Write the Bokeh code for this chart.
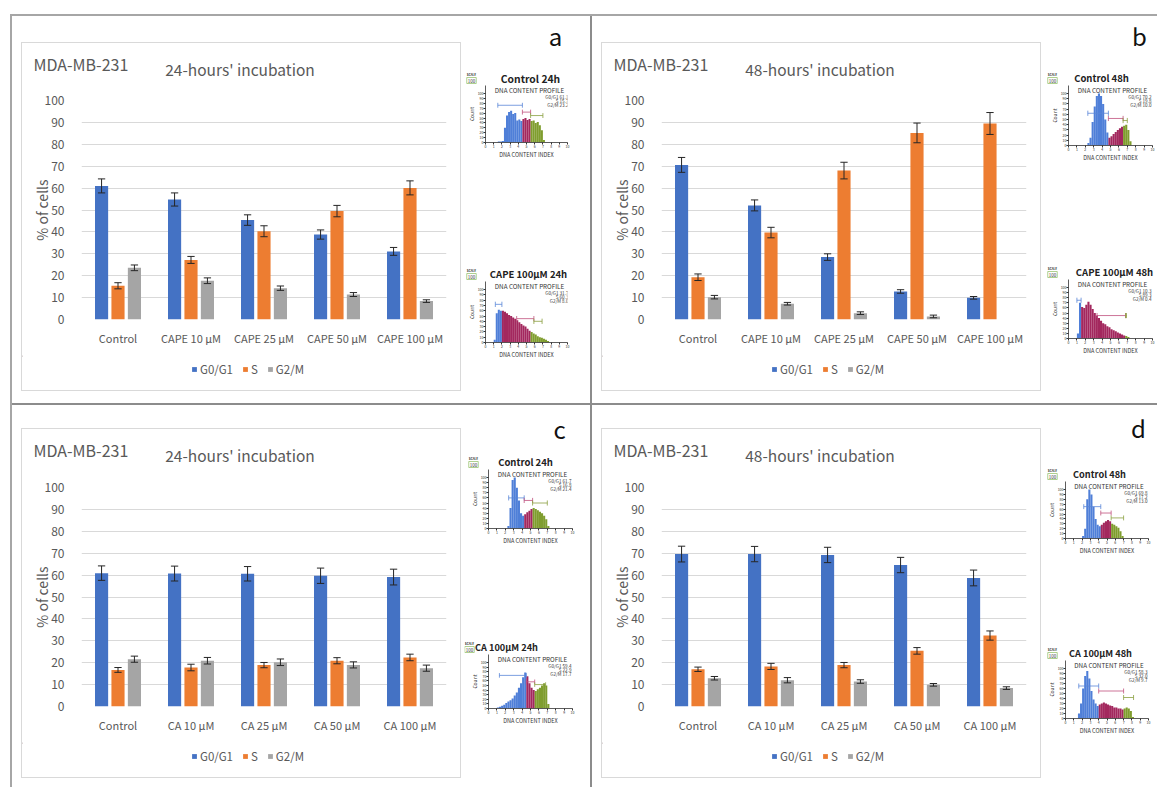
from bokeh.plotting import figure
from bokeh.models import (ColumnDataSource, FactorRange, Range1d, Label, Legend,
                          Div, Spacer, FixedTicker)
from bokeh.layouts import row, column
from bokeh.transform import dodge
from bokeh.embed import file_html
from bokeh.resources import INLINE

FONT = "Noto Sans CJK KR"
TXT = "#595959"
C_G, C_S, C_M = "#4472C4", "#ED7D31", "#A5A5A5"
ERR = "#262626"
H_BLUE, H_RED, H_GREEN = "#4f7fd8", "#a3285e", "#7f9d2e"

# ---------------- data ----------------
phases = ["G0/G1", "S", "G2/M"]
cats_cape = ["Control", "CAPE 10 µM", "CAPE 25 µM", "CAPE 50 µM", "CAPE 100 µM"]
cats_ca = ["Control", "CA 10 µM", "CA 25 µM", "CA 50 µM", "CA 100 µM"]

# panel a: CAPE, 24 h
a_g0g1 = [61.0, 54.8, 45.4, 38.8, 31.1]
a_s = [15.4, 27.2, 40.3, 49.5, 60.1]
a_g2m = [23.6, 17.7, 14.3, 11.4, 8.4]
a_g0g1_err = [3.2, 3.0, 2.4, 2.1, 1.8]
a_s_err = [1.4, 1.6, 2.5, 2.6, 3.2]
a_g2m_err = [1.3, 1.3, 1.0, 0.9, 0.6]

# panel b: CAPE, 48 h
b_g0g1 = [70.6, 52.1, 28.5, 12.8, 9.9]
b_s = [19.3, 39.7, 68.0, 85.2, 89.5]
b_g2m = [10.2, 7.2, 2.9, 1.4, 0.0]
b_g0g1_err = [3.4, 2.5, 1.5, 0.8, 0.6]
b_s_err = [1.5, 2.4, 3.8, 4.5, 5.0]
b_g2m_err = [0.8, 0.6, 0.6, 0.6, 0.0]

# panel c: CA, 24 h
c_g0g1 = [60.9, 60.7, 60.6, 59.7, 59.1]
c_s = [16.7, 17.8, 18.9, 20.9, 22.4]
c_g2m = [21.6, 20.9, 20.2, 19.0, 17.5]
c_g0g1_err = [3.3, 3.4, 3.3, 3.5, 3.6]
c_s_err = [1.1, 1.5, 1.2, 1.4, 1.5]
c_g2m_err = [1.4, 1.5, 1.5, 1.4, 1.4]

# panel d: CA, 48 h
d_g0g1 = [69.6, 69.6, 69.2, 64.6, 58.7]
d_s = [17.0, 18.3, 18.9, 25.4, 32.4]
d_g2m = [12.9, 12.0, 11.4, 9.9, 8.4]
d_g0g1_err = [3.6, 3.5, 3.5, 3.5, 3.6]
d_s_err = [1.0, 1.4, 1.2, 1.5, 2.1]
d_g2m_err = [0.8, 1.2, 0.8, 0.6, 0.6]

# DNA content histograms of the insets (bin width 0.25, DNA content index)
hist_bin = 0.25
a1_start, a1_counts = 1.5, [2, 2, 3, 30, 55, 62, 65, 58, 60, 45, 47, 44, 48, 50, 46, 48, 44, 45, 40, 42, 35, 25, 5]
a2_start, a2_counts = 1.0, [5, 55, 62, 60, 60, 58, 55, 52, 50, 47, 45, 42, 38, 35, 32, 30, 26, 22, 20, 17, 15, 12, 10, 9, 7, 5, 3]
b1_start, b1_counts = 2.25, [5, 15, 45, 75, 95, 100, 95, 80, 50, 25, 15, 18, 22, 26, 30, 33, 36, 38, 40, 30, 8]
b2_start, b2_counts = 1.0, [10, 70, 62, 60, 66, 72, 66, 58, 50, 45, 40, 35, 30, 28, 24, 22, 18, 16, 14, 12, 10, 8, 6, 5, 3]
c1_start, c1_counts = 2.25, [5, 40, 95, 100, 80, 55, 30, 25, 28, 32, 35, 38, 40, 38, 36, 33, 30, 25, 18, 5]
c2_start, c2_counts = 1.0, [2, 4, 6, 8, 12, 15, 18, 22, 28, 35, 45, 55, 68, 78, 70, 55, 45, 40, 38, 42, 45, 50, 55, 50, 10]
d1_start, d1_counts = 2.0, [5, 20, 80, 100, 90, 65, 40, 28, 25, 28, 32, 35, 38, 35, 30, 28, 25, 22, 15, 5]
d2_start, d2_counts = 1.5, [10, 30, 60, 85, 95, 80, 55, 38, 30, 25, 28, 30, 32, 30, 28, 26, 25, 22, 22, 20, 20, 18, 20, 22, 20, 15, 3]

# phase boundaries (end of G0/G1, end of S)
a1_bounds, a2_bounds = (4.5, 5.5), (2.0, 5.5)
b1_bounds, b2_bounds = (4.75, 6.5), (1.5, 6.75)
c1_bounds, c2_bounds = (4.25, 5.25), (4.5, 5.5)
d1_bounds, d2_bounds = (4.25, 5.5), (4.0, 7.0)

# gate markers: (x0, x1, height) for G0/G1, S, G2/M
a1_gates = [(1.5, 4.5, 76), (4.5, 5.5, 62), (5.5, 7.0, 55)]
a2_gates = [(1.2, 2.0, 72), (3.8, 5.9, 45), (5.9, 6.9, 40)]
b1_gates = [(2.3, 4.75, 62), (4.75, 6.5, 52), (6.5, 7.0, 48)]
b2_gates = [(1.0, 1.5, 75), (3.4, 6.8, 45), (6.8, 6.9, 45)]
c1_gates = [(2.4, 4.25, 60), (4.25, 5.25, 55), (5.25, 7.0, 50)]
c2_gates = [(1.3, 4.5, 72), (4.5, 5.5, 58), (5.5, 6.8, 52)]
d1_gates = [(2.2, 4.25, 65), (4.25, 5.5, 52), (5.5, 7.0, 42)]
d2_gates = [(1.6, 4.0, 65), (4.0, 7.0, 55), (7.0, 8.2, 42)]

a1_stats, a2_stats = [61.1, 15.7, 23.2], [31.7, 60.3, 8.0]
b1_stats, b2_stats = [70.2, 19.8, 10.0], [10.3, 89.3, 0.4]
c1_stats, c2_stats = [61.7, 16.8, 21.4], [59.4, 22.9, 17.7]
d1_stats, d2_stats = [69.8, 17.2, 13.0], [58.3, 32.0, 9.7]


# ---------------- helpers ----------------
def canvas(ox, oy, w, h):
    """a text-only strip whose data coordinates are page pixels"""
    p = figure(width=w, height=h, x_range=Range1d(ox, ox + w), y_range=Range1d(oy + h, oy),
               x_axis_type=None, y_axis_type=None, min_border=0, output_backend="svg",
               toolbar_location=None, frame_align=False)
    p.grid.visible = False
    p.outline_line_color = None
    return p


def put(p, text, x, y, size, color="#222222", align="center", bold=False, units="data", **kw):
    p.add_layout(Label(x=x, y=y, x_units=units, y_units=units, text=text, text_font=FONT,
                       text_font_size=f"{size}px", text_color=color, text_align=align,
                       text_baseline="middle",
                       text_font_style="bold" if bold else "normal", **kw))


def make_chart(cats, vals, errs, fig_h, top):
    p = figure(x_range=FactorRange(*cats), y_range=Range1d(0, 100), width=438, height=fig_h,
               min_border_left=59, min_border_right=14, min_border_top=top,
               min_border_bottom=fig_h - top - 219, output_backend="svg",
               toolbar_location=None, frame_align=False)
    p.outline_line_color = None
    p.xgrid.visible = False
    p.ygrid.grid_line_color = "#d9d9d9"
    p.yaxis.ticker = FixedTicker(ticks=list(range(0, 101, 10)))
    for ax in (p.xaxis[0], p.yaxis[0]):
        ax.axis_line_color = None
        ax.major_tick_line_color = None
        ax.minor_tick_line_color = None
        ax.major_label_text_font = FONT
        ax.major_label_text_color = TXT
    p.yaxis.major_label_text_font_size = "12px"
    p.xaxis.major_label_text_font_size = "11px"
    p.yaxis.major_label_standoff = 11
    p.xaxis.major_label_standoff = 4
    p.yaxis.axis_label = "% of cells"
    p.yaxis.axis_label_text_font = FONT
    p.yaxis.axis_label_text_font_size = "14px"
    p.yaxis.axis_label_text_font_style = "normal"
    p.yaxis.axis_label_text_color = TXT
    p.yaxis.axis_label_standoff = -10

    src = ColumnDataSource(dict(cat=cats, g=vals[0], s=vals[1], m=vals[2]))
    offs = [-0.225, 0.0, 0.225]
    for key, col, off in zip(["g", "s", "m"], [C_G, C_S, C_M], offs):
        p.vbar(x=dodge("cat", off, range=p.x_range), top=key, width=0.18,
               source=src, fill_color=col, line_color=None)
    for v, e, off in zip(vals, errs, offs):
        keep = [i for i in range(len(cats)) if e[i] > 0]
        es = ColumnDataSource(dict(cat=[cats[i] for i in keep],
                                   lo=[v[i] - e[i] for i in keep],
                                   hi=[v[i] + e[i] for i in keep]))
        xc = dodge("cat", off, range=p.x_range)
        p.segment(x0=xc, x1=xc, y0="lo", y1="hi", source=es, line_color=ERR, line_width=1)
        for yk in ("lo", "hi"):
            p.segment(x0=dodge("cat", off - 0.05, range=p.x_range),
                      x1=dodge("cat", off + 0.05, range=p.x_range),
                      y0=yk, y1=yk, source=es, line_color=ERR, line_width=1)
    return p


def chart_block(ox, oy, cats, vals, errs, subtitle, box_h, frame_top, frame_bottom):
    """ox, oy: page position of the chart area (inside the light box)"""
    hdr_h = 45
    hdr = canvas(ox, oy, 438, hdr_h)
    put(hdr, "MDA-MB-231", ox + 11, oy + 20, 16, color=TXT, align="left")
    put(hdr, subtitle, ox + 217.5, oy + 25, 15.5, color=TXT)
    chart_top = oy + hdr_h
    chart_h = frame_bottom + 36 - chart_top
    p = make_chart(cats, vals, errs, chart_h, frame_top - chart_top)
    foot_y = chart_top + chart_h
    foot_h = box_h - hdr_h - chart_h
    foot = canvas(ox, foot_y, 438, foot_h)
    # legend swatches in the colours of the bars (placeholder glyphs kept off the strip)
    rs = [foot.vbar(x=[ox - 100], top=[foot_y], bottom=[foot_y + 1], width=1,
                    fill_color=c, line_color=None) for c in (C_G, C_S, C_M)]
    leg_mid = frame_bottom + 50
    foot.add_layout(Legend(items=[(ph, [r]) for ph, r in zip(phases, rs)],
                           location=(169, foot_y + foot_h - leg_mid - 8),
                           orientation="horizontal", glyph_width=6, glyph_height=6,
                           label_text_font=FONT, label_text_font_size="11.5px",
                           label_text_color=TXT, label_standoff=3, spacing=9, padding=0,
                           margin=0, border_line_color=None, background_fill_alpha=0,
                           label_height=12, label_width=5))
    lc = "#d9d9d9"
    return column(line(440, 1, lc),
                  row(line(1, box_h, lc), column(hdr, p, foot), line(1, box_h, lc)),
                  line(440, 1, lc))


def make_inset(ox, oy, fig_w, frame, ext, start, counts, bounds, gates, stats):
    fl, ft, fr, fb = frame  # page coords of the 0..100 data frame
    k = (fb - ft) / 100.0
    fig_h = fb + 22 - oy
    p = figure(x_range=Range1d(0, 10), y_range=Range1d(0, 100 + ext / k), width=fig_w,
               height=fig_h, min_border_left=fl - ox, min_border_top=0,
               min_border_right=ox + fig_w - fr, min_border_bottom=22,
               output_backend="svg", toolbar_location=None, frame_align=False)
    p.outline_line_color = None
    p.grid.visible = False
    p.xaxis.ticker = FixedTicker(ticks=list(range(0, 11)))
    p.yaxis.ticker = FixedTicker(ticks=list(range(0, 101, 10)))
    for ax in (p.xaxis[0], p.yaxis[0]):
        ax.axis_line_color = "#333333"
        ax.axis_line_width = 0.8
        ax.major_tick_line_color = "#333333"
        ax.major_tick_out = 2
        ax.major_tick_in = 0
        ax.minor_tick_line_color = None
        ax.major_label_text_font = FONT
        ax.major_label_text_font_size = "3.5px"
        ax.major_label_text_color = "#333333"
        ax.major_label_standoff = 0
        ax.axis_label_text_font = FONT
        ax.axis_label_text_font_style = "normal"
        ax.axis_label_text_color = "#333333"
        ax.axis_label_standoff = 0
    p.xaxis.axis_label = "DNA CONTENT INDEX"
    p.xaxis.axis_label_text_font_size = "5.5px"
    p.yaxis.axis_label = "Count"
    p.yaxis.axis_label_text_font_size = "5px"

    xs = [start + hist_bin * (i + 0.5) for i in range(len(counts))]
    cols = [H_BLUE if x < bounds[0] else (H_RED if x < bounds[1] else H_GREEN) for x in xs]
    p.vbar(x=xs, top=counts, width=hist_bin, fill_color=cols, line_color=None)
    for (x0, x1, h), col in zip(gates, ["#5a86d8", "#c0507e", "#8aa040"]):
        p.segment(x0=[x0, x0, x1], x1=[x1, x0, x1], y0=[h, h - 5, h - 5], y1=[h, h + 5, h + 5],
                  line_color=col, line_width=0.8)
    # texts inside the frame, given in frame pixels
    w = fr - fl
    hpx = fb - ft + ext
    for j, (ph, v) in enumerate(zip(phases, stats)):
        put(p, f"{ph} {v:.1f}", w - 1, hpx - ext - 3 - 4 * j, 4.6, color="#333333",
            align="right", units="screen")
    put(p, "DNA CONTENT PROFILE", w / 2 + 2, hpx - 4.5, 6.3, color="#333333", units="screen")
    return p, fig_h


def inset_column(ox, w, y0, y1, specs):
    kids = []
    y = y0
    ext = 8
    for s in specs:
        fl, ft, fr, fb = s["frame"]
        top = ft - ext
        c = canvas(ox, y, w, top - y)
        put(c, s["title"], s["title_x"], top - 7.5, s["title_size"], bold=True)
        bx = s["box_x"]
        by = top - 5
        put(c, "100", bx, by, 4.5, color="#333333", border_line_color="#9bc472",
            border_line_width=0.8, background_fill_color="white", padding=1)
        put(c, "SCALE", bx, by - 6, 3, color="#333333", bold=True)
        if s.get("letter"):
            put(c, s["letter"], s["letter_pos"][0], s["letter_pos"][1], 24, color="#111111")
        kids.append(c)
        p, fh = make_inset(ox, top, w, s["frame"], ext, s["start"], s["counts"], s["bounds"],
                           s["gates"], s["stats"])
        kids.append(p)
        y = top + fh
    if y1 > y:
        kids.append(Spacer(width=w, height=y1 - y))
    return column(*kids)


def line(w, h, color):
    return Div(text="", width=w, height=h, margin=0,
               styles={"background-color": color, "padding": "0", "margin": "0"})


# ---------------- charts ----------------
pa = chart_block(22, 43, cats_cape, [a_g0g1, a_s, a_g2m], [a_g0g1_err, a_s_err, a_g2m_err],
                 "24-hours' incubation", 347, 100, 319)
pb = chart_block(602, 43, cats_cape, [b_g0g1, b_s, b_g2m], [b_g0g1_err, b_s_err, b_g2m_err],
                 "48-hours' incubation", 347, 100, 319)
pc = chart_block(22, 429, cats_ca, [c_g0g1, c_s, c_g2m], [c_g0g1_err, c_s_err, c_g2m_err],
                 "24-hours' incubation", 348, 487, 706)
pd = chart_block(602, 429, cats_ca, [d_g0g1, d_s, d_g2m], [d_g0g1_err, d_s_err, d_g2m_err],
                 "48-hours' incubation", 348, 487, 706)

# ---------------- insets ----------------
col_a = inset_column(464, 116, 16, 403, [
    dict(frame=(483, 93, 567, 142), start=a1_start, counts=a1_counts, bounds=a1_bounds,
         gates=a1_gates, stats=a1_stats, title="Control 24h", title_x=530, title_size=10.3,
         box_x=471, letter="a", letter_pos=(555, 35)),
    dict(frame=(483, 289, 567, 342), start=a2_start, counts=a2_counts, bounds=a2_bounds,
         gates=a2_gates, stats=a2_stats, title="CAPE 100µM 24h", title_x=528, title_size=9.5,
         box_x=471)])
col_b = inset_column(1044, 113, 16, 403, [
    dict(frame=(1068, 93, 1152, 145), start=b1_start, counts=b1_counts, bounds=b1_bounds,
         gates=b1_gates, stats=b1_stats, title="Control 48h", title_x=1101, title_size=9.5,
         box_x=1052, letter="b", letter_pos=(1139, 35)),
    dict(frame=(1068, 287, 1152, 338), start=b2_start, counts=b2_counts, bounds=b2_bounds,
         gates=b2_gates, stats=b2_stats, title="CAPE 100µM 48h", title_x=1114, title_size=9.5,
         box_x=1052)])
col_c = inset_column(464, 116, 405, 787, [
    dict(frame=(488, 477, 572, 528), start=c1_start, counts=c1_counts, bounds=c1_bounds,
         gates=c1_gates, stats=c1_stats, title="Control 24h", title_x=525, title_size=9.5,
         box_x=473, letter="c", letter_pos=(559, 428)),
    dict(frame=(488, 662, 572, 708), start=c2_start, counts=c2_counts, bounds=c2_bounds,
         gates=c2_gates, stats=c2_stats, title="CA 100µM 24h", title_x=506, title_size=9.2,
         box_x=469)])
col_d = inset_column(1044, 113, 405, 787, [
    dict(frame=(1065, 489, 1148, 538), start=d1_start, counts=d1_counts, bounds=d1_bounds,
         gates=d1_gates, stats=d1_stats, title="Control 48h", title_x=1099, title_size=9.2,
         box_x=1052, letter="d", letter_pos=(1138, 427)),
    dict(frame=(1065, 668, 1148, 718), start=d2_start, counts=d2_counts, bounds=d2_bounds,
         gates=d2_gates, stats=d2_stats, title="CA 100µM 48h", title_x=1100, title_size=9.2,
         box_x=1052)])

# ---------------- layout (page origin at the top-left corner) ----------------
SEP = "#8c8c8c"
panel_a = row(Spacer(width=9, height=387),
              column(Spacer(width=440, height=26), pa, Spacer(width=440, height=12)),
              Spacer(width=3, height=387), col_a, Spacer(width=10, height=387))
panel_c = row(Spacer(width=9, height=382),
              column(Spacer(width=440, height=23), pc, Spacer(width=440, height=9)),
              Spacer(width=3, height=382), col_c, Spacer(width=10, height=382))
panel_b = row(Spacer(width=9, height=387),
              column(Spacer(width=440, height=26), pb, Spacer(width=440, height=12)),
              Spacer(width=3, height=387), col_b)
panel_d = row(Spacer(width=9, height=382),
              column(Spacer(width=440, height=23), pd, Spacer(width=440, height=9)),
              Spacer(width=3, height=382), col_d)

left = column(panel_a, line(578, 2, SEP), panel_c)
right = column(panel_b, line(565, 2, SEP), panel_d)
body = row(left, line(2, 771, SEP), right)
root = column(Spacer(width=1157, height=14),
              row(Spacer(width=10, height=773),
                  column(line(1147, 2, "#a6a6a6"), row(line(2, 771, "#a6a6a6"), body))))

open("out.html", "w").write(file_html(root, INLINE))
